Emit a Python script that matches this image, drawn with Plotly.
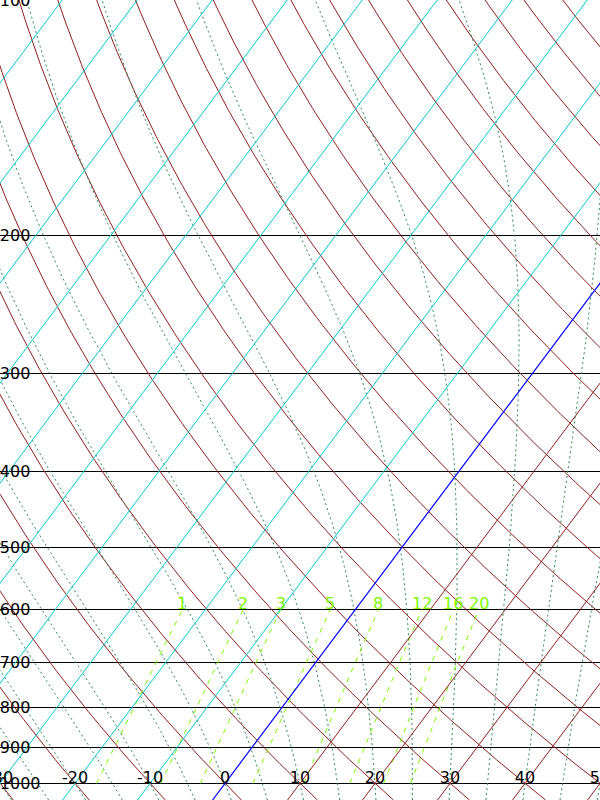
import numpy as np
import plotly.graph_objects as go

# ---------------- data ----------------
pressure_levels = [1000, 900, 800, 700, 600, 500, 400, 300, 200, 100]   # hPa
temp_ticks = [-30, -20, -10, 0, 10, 20, 30, 40, 50]                      # degC
isotherm_temps = [-120, -110, -100, -90, -80, -70, -60, -50, -40, -30, -20, -10,
                  0, 10, 20, 30, 40, 50]                                   # degC
dry_adiabat_thetas = [-40, -30, -20, -10, 0, 10, 20, 30, 40, 50, 60, 70, 80, 90,
                      100, 110, 120, 130, 140, 150, 160, 170, 180, 190, 200, 210]  # degC
moist_adiabat_t0 = [-30, -25, -20, -15, -10, -5, 0, 5, 10, 15, 20, 25, 30, 35,
                    40, 45, 50]                                            # degC at 1000 hPa
mixing_ratios = [1, 2, 3, 5, 8, 12, 16, 20]                                # g/kg
mixing_label_p = 600                                                       # hPa

P_BOTTOM, P_TOP = 1050, 100
SKEW = 78.3          # degC of x shift per decade of pressure
RD, CP, LV, EPS = 287.04749, 1004.67, 2.50084e6, 0.6219569
CL, CPV = 4190.0, 1870.0


def skew_x(t, p):
    return np.asarray(t) + SKEW * np.log10(1000.0 / np.asarray(p))


def sat_vp(tc):
    return 6.112 * np.exp(17.67 * tc / (tc + 243.5))


def dew_from_vp(e):
    lg = np.log(e / 6.112)
    return 243.5 * lg / (17.67 - lg)


def entropy(tk, p, rt):
    e = np.minimum(sat_vp(tk - 273.15), 0.8 * p)
    rv = EPS * e / (p - e)
    lv = 2.501e6 - (CL - CPV) * (tk - 273.15)
    return (CP + rt * CL) * np.log(tk) - RD * np.log(p - e) + lv * rv / tk


def moist_adiabat(t0c, p):
    """Saturated (reversible) adiabat through t0c at 1000 hPa."""
    e0 = sat_vp(t0c)
    rt = EPS * e0 / (1000.0 - e0)
    s0 = entropy(t0c + 273.15, 1000.0, rt)
    lo = np.full_like(p, 150.0)
    hi = np.full_like(p, 330.0)
    for _ in range(60):
        mid = 0.5 * (lo + hi)
        warm = entropy(mid, p, rt) > s0
        hi = np.where(warm, mid, hi)
        lo = np.where(warm, lo, mid)
    return 0.5 * (lo + hi) - 273.15


p_prof = np.geomspace(P_BOTTOM, P_TOP, 200)

fig = go.Figure()

BROWN = "rgb(140,30,30)"
CYAN = "rgb(0,200,205)"
GREEN = "rgb(46,139,87)"
LIME = "#7CFC00"

# dry adiabats
for th in dry_adiabat_thetas:
    t = (th + 273.15) * (p_prof / 1000.0) ** (RD / CP) - 273.15
    fig.add_trace(go.Scatter(x=skew_x(t, p_prof), y=p_prof, mode="lines",
                             line=dict(color=BROWN, width=1), hoverinfo="skip"))

# moist adiabats
for t0 in moist_adiabat_t0:
    tt = moist_adiabat(t0, p_prof)
    fig.add_trace(go.Scatter(x=skew_x(tt, p_prof), y=p_prof, mode="lines",
                             line=dict(color=GREEN, width=1, dash="2px,3px"),
                             hoverinfo="skip"))

# mixing ratio lines
p_mix = np.linspace(1000, mixing_label_p, 40)
for w in mixing_ratios:
    wk = w / 1000.0
    e = p_mix * wk / (EPS + wk)
    td = dew_from_vp(e)
    fig.add_trace(go.Scatter(x=skew_x(td, p_mix), y=p_mix, mode="lines",
                             line=dict(color=LIME, width=1, dash="5px,6px"),
                             hoverinfo="skip"))
    fig.add_annotation(x=float(skew_x(td[-1], mixing_label_p)), y=np.log10(mixing_label_p),
                       text=str(w), showarrow=False, xanchor="center", yanchor="middle",
                       yshift=6.5, font=dict(color=LIME, size=16, family="DejaVu Sans"))

# isotherms
p_iso = np.array([P_BOTTOM, P_TOP])
for t in isotherm_temps:
    col = CYAN if t < 0 else (BROWN if t > 0 else "blue")
    fig.add_trace(go.Scatter(x=skew_x([t, t], p_iso), y=p_iso, mode="lines",
                             line=dict(color=col, width=1.2 if t == 0 else 1),
                             hoverinfo="skip"))

fig.update_layout(
    width=600, height=800, margin=dict(l=0, r=0, t=0, b=0, pad=0),
    paper_bgcolor="white", plot_bgcolor="white", showlegend=False,
    font=dict(family="DejaVu Sans", size=16, color="black"),
)
fig.update_xaxes(range=[-30, 50], showgrid=False, zeroline=False, automargin=False,
                 showline=True, mirror=True, linecolor="black", linewidth=1,
                 tickvals=temp_ticks, ticktext=[str(t) for t in temp_ticks],
                 ticks="", ticklabelposition="inside", ticklabeloverflow="allow",
                 ticklabelstandoff=14, tickfont=dict(size=16, color="black"))
fig.update_yaxes(type="log", range=[np.log10(P_BOTTOM), np.log10(P_TOP)], automargin=False,
                 tickvals=pressure_levels, ticktext=[str(p) for p in pressure_levels],
                 showgrid=True, gridcolor="black", gridwidth=1, zeroline=False,
                 showline=True, mirror=True, linecolor="black", linewidth=1,
                 ticks="", ticklabelposition="inside", ticklabeloverflow="allow",
                 tickfont=dict(size=16, color="black"))

fig.write_html("out.html")
